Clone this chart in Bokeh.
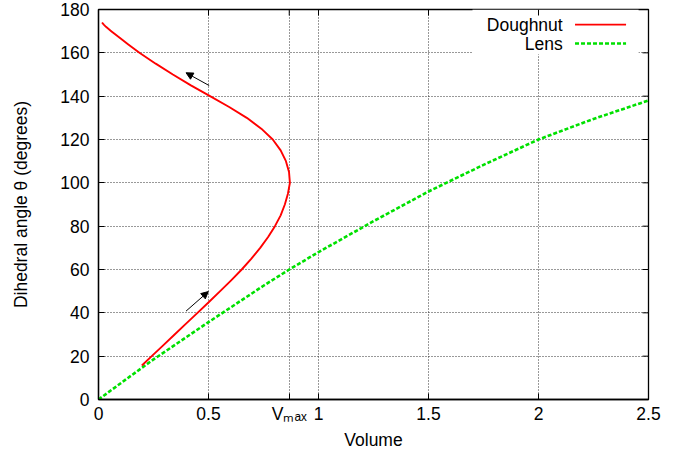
from bokeh.plotting import figure
from bokeh.models import (Range1d, FixedTicker, Arrow, NormalHead,
                          Label, BoxAnnotation, ColumnDataSource)
from bokeh.embed import file_html
from bokeh.resources import INLINE

# ---------------- data ----------------
V_MAX = 0.867
x_ticks = [0, 0.5, V_MAX, 1, 1.5, 2, 2.5]
x_tick_labels = ["0", "0.5", "Vₘₐₓ", "1", "1.5", "2", "2.5"]
y_ticks = [0, 20, 40, 60, 80, 100, 120, 140, 160, 180]

doughnut_volume = [0.197, 0.242, 0.294, 0.346, 0.398, 0.450, 0.502, 0.553, 0.603,
                   0.651, 0.695, 0.735, 0.771, 0.802, 0.828, 0.847, 0.861, 0.870,
                   0.866, 0.852, 0.828, 0.792, 0.740, 0.674, 0.594, 0.507, 0.420,
                   0.338, 0.260, 0.186, 0.160, 0.134, 0.108, 0.083, 0.058, 0.034,
                   0.024, 0.016]
doughnut_angle = [15.7, 20, 25, 30, 35, 40, 45, 50, 55,
                  60, 65, 70, 75, 80, 85, 90, 95, 100,
                  105, 110, 115, 120, 125, 130, 135, 140, 145,
                  150, 155, 160, 162, 164, 166, 168, 170, 172,
                  173, 174]

lens_volume = [0, 0.148, 0.25, 0.5, 0.75, 0.867, 1.0, 1.25, 1.5, 1.75, 2.0, 2.25, 2.5]
lens_angle = [0, 11, 18.5, 35.7, 52.5, 60, 68, 82.3, 96, 108.3, 120, 129.5, 138]

arrow_start_volume = [0.503, 0.398]
arrow_start_angle = [144.9, 40.8]
arrow_end_volume = [0.398, 0.499]
arrow_end_angle = [150.8, 49.8]

series_names = ["Doughnut", "Lens"]
series_colors = ["#ff0000", "#00e000"]

FONT = "Liberation Sans"
FS = "17.5px"

X_MIN, X_MAX = 0, 2.5
Y_MIN, Y_MAX = 0, 180
FRAME_W, FRAME_H = 550, 390
TICK_PX = 6

# ---------------- figure ----------------
p = figure(width=690, height=461, output_backend="svg", toolbar_location=None,
           x_range=Range1d(X_MIN, X_MAX), y_range=Range1d(Y_MIN, Y_MAX),
           min_border_left=98, min_border_right=42, min_border_top=9,
           min_border_bottom=62,
           x_axis_label="Volume", y_axis_label="Dihedral angle θ (degrees)")
p.background_fill_color = "white"
p.border_fill_color = "white"
p.outline_line_color = "black"
p.outline_line_width = 1.3

xax = p.below[0]
yax = p.left[0]
xax.ticker = FixedTicker(ticks=x_ticks)
yax.ticker = FixedTicker(ticks=y_ticks)
xax.major_label_overrides = {t: l for t, l in zip(x_ticks, x_tick_labels)}

for ax in [xax, yax]:
    ax.major_tick_in = TICK_PX
    ax.major_tick_out = 0
    ax.minor_tick_in = 0
    ax.minor_tick_out = 0
    ax.axis_line_color = "black"
    ax.axis_line_width = 1.3
    ax.major_tick_line_color = "black"
    ax.major_label_text_font = FONT
    ax.major_label_text_font_size = FS
    ax.major_label_text_color = "black"
    ax.axis_label_text_font = FONT
    ax.axis_label_text_font_size = FS
    ax.axis_label_text_font_style = "normal"
    ax.axis_label_text_color = "black"

xax.major_label_standoff = 4
yax.major_label_standoff = 9
xax.axis_label_standoff = 3
yax.axis_label_standoff = 26

p.xgrid[0].ticker = FixedTicker(ticks=x_ticks)
p.ygrid[0].ticker = FixedTicker(ticks=y_ticks)
for g in [p.xgrid[0], p.ygrid[0]]:
    g.grid_line_color = "#333333"
    g.grid_line_dash = "1 2"
    g.grid_line_width = 1

# legend background (hides the grid under the key)
p.add_layout(BoxAnnotation(left=1.70, right=2.455, bottom=159.3, top=Y_MAX,
                           fill_color="white", fill_alpha=1.0, line_color=None,
                           level="underlay"))

# mirrored tick marks on the top and right sides
tick_dy = TICK_PX * (Y_MAX - Y_MIN) / FRAME_H
tick_dx = TICK_PX * (X_MAX - X_MIN) / FRAME_W
p.segment(x0=x_ticks, y0=[Y_MAX] * len(x_ticks), x1=x_ticks,
          y1=[Y_MAX - tick_dy] * len(x_ticks), line_color="black", line_width=1)
p.segment(x0=[X_MAX] * len(y_ticks), y0=y_ticks, x1=[X_MAX - tick_dx] * len(y_ticks),
          y1=y_ticks, line_color="black", line_width=1)

# ---------------- series ----------------
p.line(lens_volume, lens_angle, line_color=series_colors[1], line_width=2.6,
       line_dash="4 2")
p.line(doughnut_volume, doughnut_angle, line_color=series_colors[0], line_width=1.9,
       line_join="round")

arrows = ColumnDataSource(dict(x0=arrow_start_volume, y0=arrow_start_angle,
                               x1=arrow_end_volume, y1=arrow_end_angle))
p.add_layout(Arrow(source=arrows, x_start="x0", y_start="y0", x_end="x1", y_end="y1",
                   line_color="black", line_width=1,
                   end=NormalHead(size=7, fill_color="black", line_color="black",
                                  line_width=1)))

# ---------------- key ----------------
KEY_TEXT_X = 2.11
KEY_LINE_X0, KEY_LINE_X1 = 2.166, 2.398
KEY_Y = [173.0, 164.3]
for name, color, ky, dash, lw in zip(series_names, series_colors, KEY_Y,
                                     ["solid", "4 2"], [1.9, 2.6]):
    p.add_layout(Label(x=KEY_TEXT_X, y=ky, text=name, text_font=FONT,
                       text_font_size=FS, text_color="black",
                       text_align="right", text_baseline="middle"))
    p.line([KEY_LINE_X0, KEY_LINE_X1], [ky, ky], line_color=color, line_width=lw,
           line_dash=dash)

open("out.html", "w").write(file_html(p, INLINE))
